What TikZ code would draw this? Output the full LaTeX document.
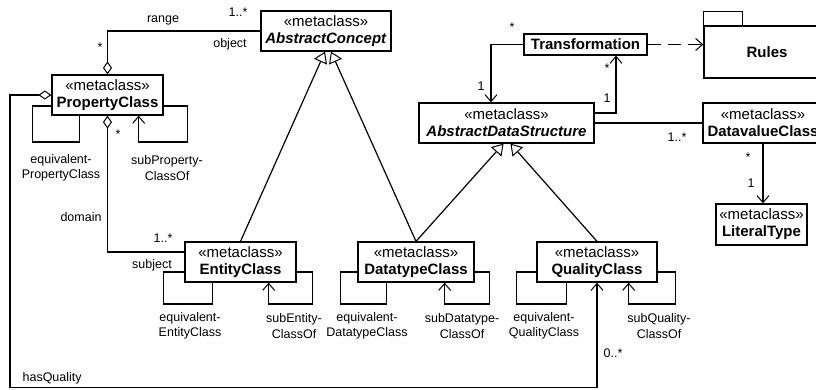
\documentclass[tikz,border=0pt]{standalone}
\usepackage{fontspec}
\setmainfont{Liberation Sans}
\usetikzlibrary{arrows.meta,calc}
\begin{document}
\begin{tikzpicture}[x=1pt,y=-1pt,
  line width=1.2pt,
  cls/.style={draw,line width=1.3pt,fill=white,inner sep=0pt,align=center,font=\fontsize{15}{17}\selectfont},
  lbl/.style={font=\fontsize{12.5}{15.5}\selectfont,inner sep=0pt,align=center},
  nav/.style={-{Straight Barb[length=7pt,width=12pt,line width=1pt]}},
  gen/.style={-{Triangle[open,length=11pt,width=14pt,line width=1pt]}},
  agg/.style={{Diamond[open,length=13pt,width=9pt,line width=1pt]}-},
  aggnav/.style={{Diamond[open,length=13pt,width=9pt,line width=1pt]}-{Straight Barb[length=7pt,width=12pt,line width=1pt]}},
]
\useasboundingbox (0,0) rectangle (816,389);

% classes
\node[cls,minimum width=130pt,minimum height=40pt] (AC) at (326,31) {«metaclass»\\\textbf{\textit{AbstractConcept}}};
\node[cls,minimum width=111pt,minimum height=40pt] (PC) at (107.5,95) {«metaclass»\\\textbf{PropertyClass}};
\node[cls,minimum width=175pt,minimum height=40pt] (ADS) at (506.5,123) {«metaclass»\\\textbf{\textit{AbstractDataStructure}}};
\node[cls,minimum width=123pt,minimum height=21pt] (Trans) at (585.5,44.5) {\textbf{Transformation}};
\node[cls,minimum width=120pt,minimum height=40pt] (DVC) at (763,123) {«metaclass»\\\textbf{DatavalueClass}};
\node[cls,minimum width=91pt,minimum height=41pt] (LT) at (761.5,224.5) {«metaclass»\\\textbf{LiteralType}};
\node[cls,minimum width=111pt,minimum height=40pt] (EC) at (240.5,262) {«metaclass»\\\textbf{EntityClass}};
\node[cls,minimum width=116pt,minimum height=40pt] (DTC) at (416,262) {«metaclass»\\\textbf{DatatypeClass}};
\node[cls,minimum width=120pt,minimum height=40pt] (QC) at (597,262) {«metaclass»\\\textbf{QualityClass}};

% package Rules
\node[cls,minimum width=126pt,minimum height=52pt] (Rules) at (767,52) {\textbf{Rules}};
\draw[line width=1.3pt] (Rules.north west) rectangle ($(Rules.north west)+(39,-14)$);

% self loops
\draw ($(PC.west)+(0,11)$) -- ++(-19,0) -- ++(0,36) -| ($(PC.south west)+(28,0)$);
\draw[nav] ($(PC.east)+(0,11)$) -- ++(24,0) -- ++(0,36) -| ($(PC.south east)+(-25,0)$);
\draw ($(EC.west)+(0,10)$) -- ++(-21,0) -- ++(0,32) -| ($(EC.south west)+(28,0)$);
\draw[nav] ($(EC.east)+(0,10)$) -- ++(16,0) -- ++(0,32) -| ($(EC.south east)+(-28,0)$);
\draw ($(DTC.west)+(0,10)$) -- ++(-17,0) -- ++(0,32) -| ($(DTC.south west)+(29,0)$);
\draw[nav] ($(DTC.east)+(0,10)$) -- ++(15,0) -- ++(0,32) -| ($(DTC.south east)+(-30,0)$);
\draw ($(QC.west)+(0,10)$) -- ++(-20,0) -- ++(0,32) -| ($(QC.south west)+(30,0)$);
\draw[nav] ($(QC.east)+(0,10)$) -- ++(18,0) -- ++(0,32) -| ($(QC.south east)+(-29,0)$);

\node[lbl] (l1) at (61,168) {equivalent-\\PropertyClass};
\node[lbl] (l2) at (167,168) {subProperty-\\ClassOf};
\node[lbl] (l3) at (190,326) {equivalent-\\EntityClass};
\node[lbl] (l4) at (294,326) {subEntity-\\ClassOf};
\node[lbl] (l5) at (367,326) {equivalent-\\DatatypeClass};
\node[lbl] (l6) at (462,326) {subDatatype-\\ClassOf};
\node[lbl] (l7) at (544,326) {equivalent-\\QualityClass};
\node[lbl] (l8) at (659,326) {subQuality-\\ClassOf};

% associations
\draw[agg] (PC.north) |- (AC.west);
\draw[agg] (PC.south) |- ($(EC.west)+(0,-10)$);
\coordinate (hq1) at (10,95);
\coordinate (hq2) at (10,387.5);
\draw[aggnav] (PC.west) -- (hq1) -- (hq2) -| (QC.south);

\draw[nav] (Trans.west) -| ($(ADS.north)+(-15.5,0)$);
\draw[nav] ($(ADS.east)+(0,-10)$) -| ($(Trans.south)+(30.5,0)$);
\draw (ADS.east) -- (DVC.west);
\draw[nav] (DVC.south) -- (DVC.south |- LT.north);
\draw[nav,dash pattern=on 13pt off 7pt] (Trans.east) -- (Rules.west |- Trans.east);

% generalizations
\draw[gen] (EC.north) -- ($(AC.south)+(-1,0)$);
\draw[gen] (DTC.north) -- ($(AC.south)+(5,0)$);
\draw[gen] (DTC.north) -- ($(ADS.south)+(-3,0)$);
\draw[gen] (QC.north) -- ($(ADS.south)+(4,0)$);

% role and multiplicity labels
\node[lbl] (m1) at (163,20) {range};
\node[lbl] (m2) at (238,12) {1..*};
\node[lbl] (m3) at (230,44) {object};
\node[lbl] (m4) at (100,47) {*};
\node[lbl] (m5) at (118,134) {*};
\node[lbl] (m6) at (81,217) {domain};
\node[lbl] (m7) at (163,238) {1..*};
\node[lbl] (m8) at (152,265) {subject};
\node[lbl,anchor=west] (m9) at (22,378) {hasQuality};
\node[lbl] (m10) at (613,353) {0..*};
\node[lbl] (m11) at (512,27) {*};
\node[lbl] (m12) at (481,86) {1};
\node[lbl] (m13) at (607,98) {1};
\node[lbl] (m14) at (607,68) {*};
\node[lbl] (m15) at (677,137) {1..*};
\node[lbl] (m16) at (748,157) {*};
\node[lbl] (m17) at (751,183) {1};
\end{tikzpicture}
\end{document}
